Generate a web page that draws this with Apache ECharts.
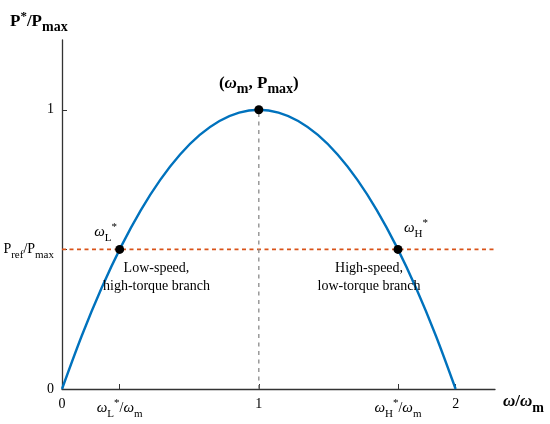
<!DOCTYPE html>
<html><head><meta charset="utf-8">
<script src="https://cdn.jsdelivr.net/npm/echarts@6/dist/echarts.min.js"></script>
<style>html,body{margin:0;padding:0;background:#fff}#c{width:550px;height:424px}</style>
</head><body><div id="c"></div>
<script>
// curve: normalised speed vs normalised power
const speed = [0,0.1,0.2,0.3,0.4,0.5,0.6,0.7,0.8,0.9,1.0,1.1,1.2,1.3,1.4,1.5,1.6,1.7,1.8,1.9,2.0];
const power = [0,0.19,0.36,0.51,0.64,0.75,0.84,0.91,0.96,0.99,1.0,0.99,0.96,0.91,0.84,0.75,0.64,0.51,0.36,0.19,0];
const prefLevel = 0.5;
const wL = 0.293, wH = 1.707;
const markerX = [wL, 1, wH];
const markerY = [0.5, 1, 0.5];
const xTickValues = [0, wL, 1, wH, 2];
const xTickLabels = ['0', '{it|ω}{sub|L}{sup|*}{n|/}{it|ω}{sub|m}', '1', '{it|ω}{sub|H}{sup|*}{n|/}{it|ω}{sub|m}', '2'];
const yTickValues = [0, prefLevel, 1];
const yTickLabels = ['0', '{n|P}{sub|ref}{n|/P}{sub|max}', '1'];

const SERIF = '"Liberation Serif","DejaVu Serif",serif';
const rich = {
  n: {fontFamily: SERIF, fontSize: 14, color: '#000'},
  it: {fontFamily: SERIF, fontSize: 15, fontStyle: 'italic', color: '#000'},
  sub: {fontFamily: SERIF, fontSize: 11, color: '#000', padding: [12, 0, 0, 0]},
  sup: {fontFamily: SERIF, fontSize: 11, color: '#000', padding: [0, 0, 10, 0]},
  bn: {fontFamily: SERIF, fontSize: 17, fontWeight: 'bold', color: '#000'},
  bit: {fontFamily: SERIF, fontSize: 17, fontWeight: 'bold', fontStyle: 'italic', color: '#000'},
  bsub: {fontFamily: SERIF, fontSize: 14, fontWeight: 'bold', color: '#000', padding: [12, 0, 0, 0]},
  bsup: {fontFamily: SERIF, fontSize: 13, fontWeight: 'bold', color: '#000', padding: [0, 0, 10, 0]}
};
const markerLabels = ['{it|ω}{sub|L}{sup|*}', '{bn|(}{bit|ω}{bsub|m}{bn|, P}{bsub|max}{bn|)}', '{it|ω}{sub|H}{sup|*}'];
const markerLabelOffsets = [[-14, 4], [0, -4], [18, 0]];
const textX = [0.48, 1.56];
const textY = [0.4, 0.4];
const textLabels = ['Low-speed,\nhigh-torque branch', 'High-speed,\nlow-torque branch'];

const chart = echarts.init(document.getElementById('c'));
chart.setOption({
  animation: false,
  grid: {left: 62, right: 55, top: 40, bottom: 35},
  xAxis: {
    type: 'value', min: 0, max: 2.2,
    name: '{bit|ω}{bn|/}{bit|ω}{bsub|m}', nameLocation: 'end', nameGap: 8,
    nameTextStyle: {rich: rich, padding: [26, 0, 0, 0]},
    axisLine: {lineStyle: {color: '#333', width: 1.3}},
    axisTick: {inside: true, length: 5, customValues: xTickValues, lineStyle: {color: '#333'}},
    axisLabel: {customValues: xTickValues, margin: 8, rich: rich,
      formatter: v => { const i = xTickValues.findIndex(t => Math.abs(t - v) < 1e-6); return i >= 0 ? (xTickLabels[i].startsWith('{') ? xTickLabels[i] : '{n|' + xTickLabels[i] + '}') : ''; }},
    splitLine: {show: false}
  },
  yAxis: {
    type: 'value', min: 0, max: 1.25,
    axisLine: {show: true, lineStyle: {color: '#333', width: 1.3}},
    axisTick: {show: true, inside: true, length: 5, customValues: yTickValues, lineStyle: {color: '#333'}},
    axisLabel: {customValues: yTickValues, margin: 8, rich: rich,
      formatter: v => { const i = yTickValues.findIndex(t => Math.abs(t - v) < 1e-6); return i >= 0 ? (yTickLabels[i].startsWith('{') ? yTickLabels[i] : '{n|' + yTickLabels[i] + '}') : ''; }},
    splitLine: {show: false}
  },
  graphic: [{
    type: 'text', left: 10, top: 10,
    style: {text: '{bn|P}{bsup|*}{bn|/P}{bsub|max}', rich: rich}
  }],
  series: [
    {
      type: 'line', data: speed.map((s, i) => [s, power[i]]), smooth: 0.3, showSymbol: false,
      lineStyle: {color: '#0072BD', width: 2.4}, z: 3
    },
    {
      type: 'line', data: [[0, prefLevel], [2.2, prefLevel]], showSymbol: false,
      lineStyle: {color: '#D95319', width: 1.8, type: [4, 3.5]}, z: 2
    },
    {
      type: 'line', data: [[1, 0], [1, 1]], showSymbol: false,
      lineStyle: {color: '#888', width: 1.3, type: [4, 4.5]}, z: 2
    },
    {
      type: 'scatter', symbolSize: 9, itemStyle: {color: '#000', opacity: 1}, z: 5,
      data: markerX.map((x, i) => ({value: [x, markerY[i]],
        label: {show: true, position: 'top', offset: markerLabelOffsets[i], formatter: markerLabels[i], rich: rich}}))
    },
    {
      type: 'scatter', symbolSize: 0, z: 4, itemStyle: {opacity: 1},
      data: textX.map((x, i) => ({value: [x, textY[i]],
        label: {show: true, position: 'inside', formatter: textLabels[i], fontFamily: SERIF, fontSize: 14, lineHeight: 18, color: '#000', align: 'center'}}))
    }
  ]
});
</script></body></html>
